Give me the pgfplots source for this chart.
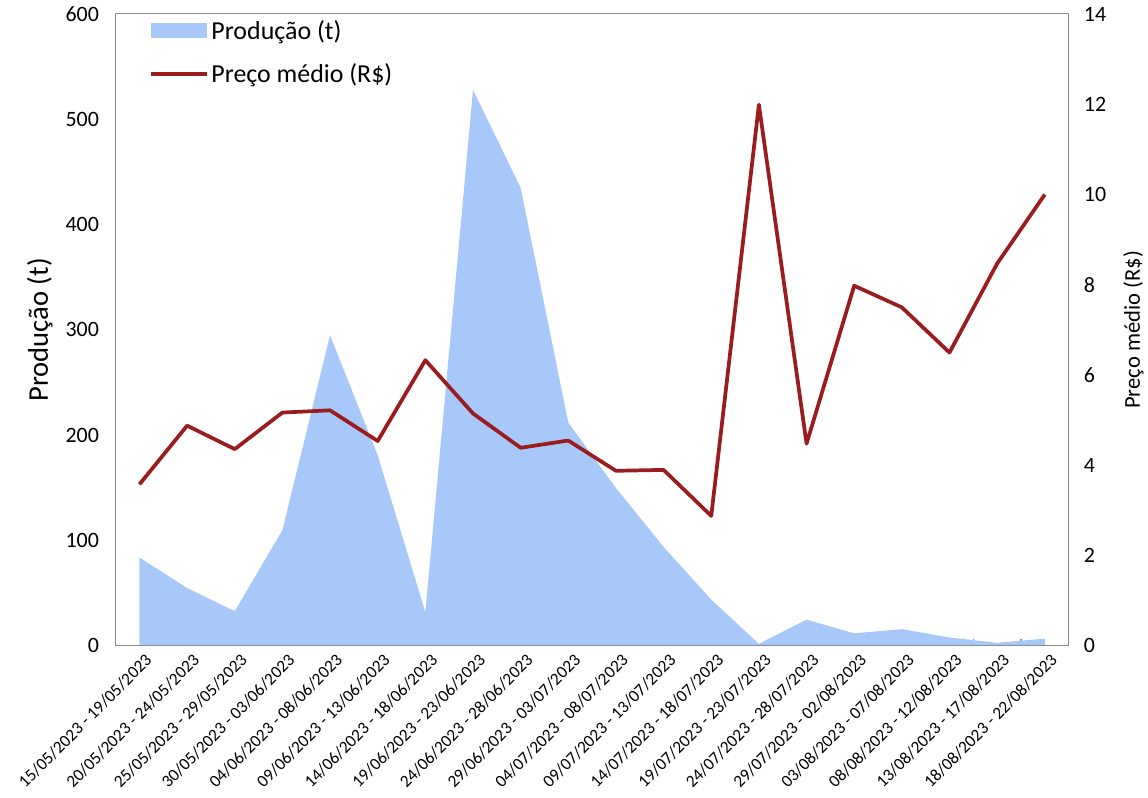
\documentclass[border=0pt]{standalone}
\usepackage{fontspec}
\setmainfont{Carlito}
\usepackage{pgfplots}
\pgfplotsset{compat=1.18}
\definecolor{areablue}{HTML}{A9C8FA}
\definecolor{linered}{HTML}{9B1C1F}
\definecolor{framegray}{HTML}{8C8C8C}
\begin{document}
\begin{tikzpicture}
\pgfplotsset{
  common/.style={
    scale only axis, width=717pt, height=475.5pt,
    xmin=-0.5, xmax=19.5, ymin=0,
    at={(0,0)}, anchor=south west,
    /pgf/number format/assume math mode=true,
    tick label style={font=\fontsize{16.5}{18}\selectfont},
  }
}
\begin{axis}[common,
  ymax=600, ytick={0,100,...,600},
  axis line style={framegray, line width=0.8pt},
  ytick style={draw=none},
  yticklabel style={xshift=-9pt},
  xtick={0,...,19},
  xticklabels={15/05/2023 - 19/05/2023,20/05/2023 - 24/05/2023,25/05/2023 - 29/05/2023,30/05/2023 - 03/06/2023,04/06/2023 - 08/06/2023,09/06/2023 - 13/06/2023,14/06/2023 - 18/06/2023,19/06/2023 - 23/06/2023,24/06/2023 - 28/06/2023,29/06/2023 - 03/07/2023,04/07/2023 - 08/07/2023,09/07/2023 - 13/07/2023,14/07/2023 - 18/07/2023,19/07/2023 - 23/07/2023,24/07/2023 - 28/07/2023,29/07/2023 - 02/08/2023,03/08/2023 - 07/08/2023,08/08/2023 - 12/08/2023,13/08/2023 - 17/08/2023,18/08/2023 - 22/08/2023},
  xticklabel style={rotate=45, anchor=north east, inner sep=1pt, yshift=-5pt, font=\fontsize{13}{14}\selectfont},
  major x tick style={draw=none},
  minor xtick={0.5,1.5,...,18.5},
  minor x tick style={framegray, line width=0.8pt},
  minor tick length=5pt,
  tick align=inside,
  xtick pos=bottom, ytick pos=left,
  ylabel={Produção (t)},
  ylabel style={at={(axis description cs:-0.0795,0.5)}, anchor=center, font=\fontsize{21.5}{23}\selectfont},
  legend style={at={(axis description cs:0.035,0.995)}, anchor=north west, draw=none, fill=none,
    font=\fontsize{19.5}{21}\selectfont, row sep=13pt, inner sep=0pt},
  legend cell align=left,
]
\addplot[draw=none, fill=areablue,
  legend image code/.code={\fill[areablue] (0pt,-6pt) rectangle (42pt,6pt);}]
  coordinates {(0,84) (1,55) (2,33) (3,110) (4,295) (5,181) (6,32) (7,528) (8,435) (9,212) (10,150) (11,94) (12,44) (13,2) (14,25) (15,12) (16,16) (17,8) (18,3) (19,7)} \closedcycle;
\addlegendentry{Produção (t)}
\addlegendimage{legend image code/.code={\draw[linered, line width=2.8pt] (0pt,0pt) -- (42pt,0pt);}}
\addlegendentry{Preço médio (R\$)}
\draw[framegray, line width=1.5pt] (rel axis cs:0,0) -- (rel axis cs:1,0);
\end{axis}
\begin{axis}[common,
  ymax=14, ytick={0,2,...,14},
  axis x line=none,
  axis y line*=right,
  axis line style={framegray, line width=0.8pt},
  ytick style={draw=none},
  yticklabel style={xshift=8pt},
  ylabel={Preço médio (R\$)},
  ylabel style={at={(axis description cs:1.068,0.5)}, anchor=center, rotate=0, font=\fontsize{17}{18}\selectfont},
]
\addplot[linered, line width=2.8pt, line join=round]
  coordinates {(0,3.58) (1,4.88) (2,4.36) (3,5.17) (4,5.22) (5,4.54) (6,6.33) (7,5.15) (8,4.39) (9,4.55) (10,3.88) (11,3.9) (12,2.88) (13,11.99) (14,4.48) (15,7.98) (16,7.5) (17,6.5) (18,8.47) (19,10.0)};
\end{axis}
\path (-87pt,-114pt) rectangle (774pt,486pt);
\end{tikzpicture}
\end{document}
